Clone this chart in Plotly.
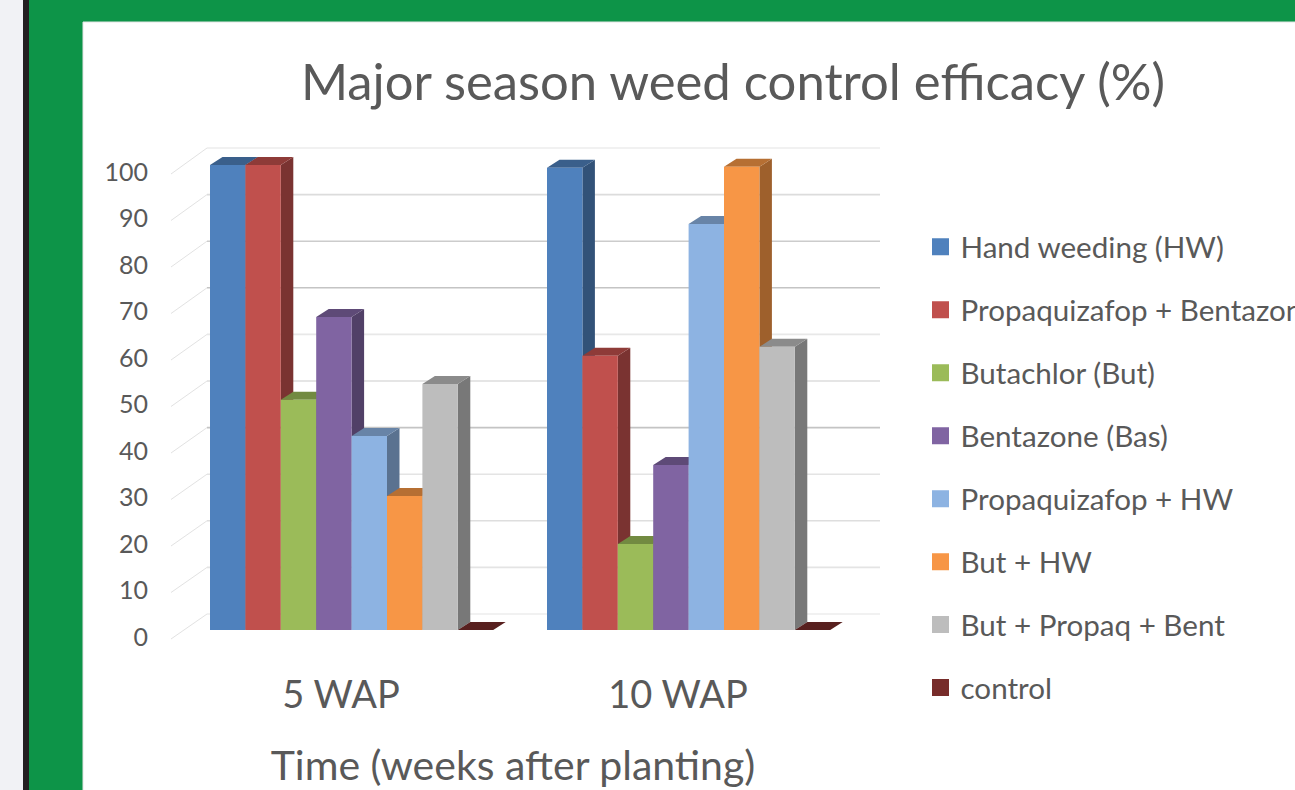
import plotly.graph_objects as go

groups = ["5 WAP", "10 WAP"]
series = ["Hand weeding (HW)", "Propaquizafop + Bentazone", "Butachlor (But)", "Bentazone (Bas)",
          "Propaquizafop + HW", "But + HW", "But + Propaq + Bent", "control"]
wap5 = [100, 100, 49.5, 67.3, 41.7, 28.8, 52.9, 0]
wap10 = [99.4, 59, 18.5, 35.5, 87.3, 99.6, 60.9, 0]
ticks = list(range(0, 101, 10))
colors = ["#4f81bd", "#c0504d", "#9bbb59", "#8064a2", "#8db3e2", "#f79646", "#bdbdbd", "#772c2a"]
grid_colors = ["#ececec", "#e4e4e4", "#dedede", "#e4e4e4", "#c4c4c4", "#dcdcdc", "#e8e8e8",
               "#c4c4c4", "#cccccc", "#dcdcdc", "#ececec"]

W, H = 1295, 790
FONT = "Lato"
GREY = "#595959"
BAR_PX = 35.4
X0_PX = 210
Y0_PX = 630
PX_PER_UNIT = 4.65
GROUP_STEP = 337 / BAR_PX
DX = 12.5 / BAR_PX
DY = 8 / PX_PER_UNIT
DOM_L, DOM_R, DOM_T, DOM_B = 146, 880, 140, 655


def shade(c, f):
    r, g, b = int(c[1:3], 16), int(c[3:5], 16), int(c[5:7], 16)
    return f"rgb({int(r*f)},{int(g*f)},{int(b*f)})"


x_range = [(DOM_L - X0_PX) / BAR_PX, (DOM_R - X0_PX) / BAR_PX]
y_range = [(Y0_PX - DOM_B) / PX_PER_UNIT, (Y0_PX - DOM_T) / PX_PER_UNIT]
label_range = [(637 - DOM_B) / PX_PER_UNIT, (637 - DOM_T) / PX_PER_UNIT]
group_starts = [0, GROUP_STEP]

fig = go.Figure()

# walls: gridlines on back wall + diagonal side wall lines
wall_x0 = (207 - X0_PX) / BAR_PX
diag_x0 = (171 - X0_PX) / BAR_PX
WALL_OFF = 16 / PX_PER_UNIT
FRONT_OFF = -9 / PX_PER_UNIT
dx_, dy_ = [], []
for t, gc in zip(ticks, grid_colors):
    wy = t * 466 / 465 + WALL_OFF
    dx_ += [diag_x0, wall_x0, None]
    dy_ += [t + FRONT_OFF, wy, None]
    fig.add_trace(go.Scatter(x=[wall_x0, x_range[1]], y=[wy, wy], mode="lines",
                             line=dict(color=gc, width=1.6),
                             showlegend=False, hoverinfo="skip"))
fig.add_trace(go.Scatter(x=dx_, y=dy_, mode="lines", line=dict(color="#e2e2e2", width=1),
                         showlegend=False, hoverinfo="skip"))

# depth faces
for i, name in enumerate(series):
    tx, ty, sx, sy = [], [], [], []
    for g, vals in zip(group_starts, (wap5, wap10)):
        l, r, v = g + i, g + i + 1, vals[i]
        tx += [l, r, r + DX, l + DX, l, None]
        ty += [v, v, v + DY, v + DY, v, None]
        sx += [r, r + DX, r + DX, r, r, None]
        sy += [0, DY, v + DY, v, 0, None]
    fig.add_trace(go.Scatter(x=sx, y=sy, mode="lines", fill="toself", line=dict(width=0),
                             fillcolor=shade(colors[i], 0.64), showlegend=False, hoverinfo="skip"))
    fig.add_trace(go.Scatter(x=tx, y=ty, mode="lines", fill="toself", line=dict(width=0),
                             fillcolor=shade(colors[i], 0.74), showlegend=False, hoverinfo="skip"))

# front faces
for i, name in enumerate(series):
    fig.add_trace(go.Bar(
        x=[g + i + 0.5 for g in group_starts], y=[wap5[i], wap10[i]], width=1, name=name,
        marker=dict(color=colors[i], line=dict(width=0)), yaxis="y2", showlegend=False,
    ))
# legend keys: same series, with the larger swatch the reference shows
for i, name in enumerate(series):
    fig.add_trace(go.Bar(
        x=[None], y=[None], name=name, yaxis="y2", legendgroup=name,
        marker=dict(color=colors[i], line=dict(width=5, color=colors[i])),
    ))

# value-label axis
fig.add_trace(go.Scatter(x=[None], y=[None], yaxis="y3", showlegend=False, hoverinfo="skip"))

fig.update_layout(
    width=W, height=H, margin=dict(l=0, r=0, t=0, b=0, autoexpand=False),
    paper_bgcolor="white", plot_bgcolor="rgba(0,0,0,0)", barmode="overlay",
    font=dict(family=FONT, color=GREY),
    title=dict(text="Major season weed control efficacy (%)", x=733 / W, xanchor="center",
               y=1 - 82 / H, yanchor="middle", xref="paper", yref="paper",
               font=dict(size=50.8, color=GREY, family=FONT)),
    xaxis=dict(domain=[DOM_L / W, DOM_R / W], range=x_range, showgrid=False, zeroline=False,
               tickmode="array", tickvals=[g + 4 - 10.5 / BAR_PX for g in group_starts], ticktext=groups,
               ticks="outside", ticklen=6, tickcolor="rgba(0,0,0,0)",
               tickfont=dict(size=38, color=GREY, family=FONT),
               title=dict(text="Time (weeks after planting)", font=dict(size=41, color=GREY, family=FONT), standoff=36)),
    yaxis=dict(domain=[1 - DOM_B / H, 1 - DOM_T / H], range=y_range, visible=False),
    yaxis2=dict(domain=[1 - DOM_B / H, 1 - DOM_T / H], range=y_range, visible=False, overlaying="y"),
    yaxis3=dict(domain=[1 - DOM_B / H, 1 - DOM_T / H], range=label_range, overlaying="y",
                anchor="free", position=148 / W, showgrid=False, zeroline=False, showline=False,
                tickmode="array", tickvals=ticks, ticks="", tickfont=dict(size=25, color=GREY, family=FONT)),
    legend=dict(x=920.5 / W, xanchor="left", y=1 - 221 / H, yanchor="top", traceorder="grouped",
                tracegroupgap=21.5, font=dict(size=29.6, color=GREY, family=FONT),
                bgcolor="rgba(0,0,0,0)", itemclick=False, itemdoubleclick=False),
    showlegend=True,
    shapes=[
        dict(type="rect", xref="paper", yref="paper", x0=0, x1=1, y0=0, y1=1, layer="below",
             fillcolor="#0d9448", line=dict(width=0)),
        dict(type="rect", xref="paper", yref="paper", x0=0, x1=23 / W, y0=0, y1=1, layer="below",
             fillcolor="#f1f2f5", line=dict(width=0)),
        dict(type="rect", xref="paper", yref="paper", x0=23 / W, x1=29 / W, y0=0, y1=1, layer="below",
             fillcolor="#231f20", line=dict(width=0)),
        dict(type="rect", xref="paper", yref="paper", x0=83 / W, x1=1.01, y0=-0.01, y1=1 - 22 / H, layer="below",
             fillcolor="white", line=dict(width=1, color="#e4e4e4")),
    ],
)

fig.write_html("out.html", config={"displayModeBar": False},
               post_script="document.body.style.margin='0';document.body.style.overflow='hidden';")
